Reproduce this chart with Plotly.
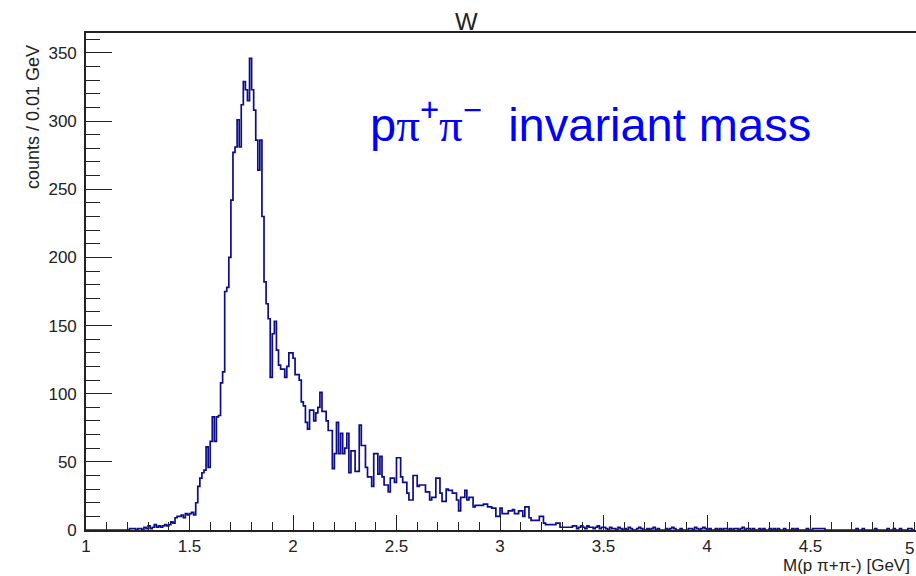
import plotly.graph_objects as go

# ---- data: counts per 0.01 GeV bin, from M = 1.00 to 5.00 GeV (one row = 0.1 GeV) ----
bin_start = 1.0
bin_width = 0.01
counts = [
    0, 0, 0, 0, 0, 0, 0, 0, 0, 0,            # 1.0
    0, 0, 0, 0, 0, 0, 0, 0, 0, 0,            # 1.1
    0, 1, 1, 1, 0, 1, 1, 0, 2, 1,            # 1.2
    3, 1, 2, 4, 2, 3, 2, 3, 4, 3,            # 1.3
    4, 6, 5, 9, 10, 10, 11, 9, 12, 11,       # 1.4
    12, 13, 11, 20, 32, 38, 42, 44, 61, 46,  # 1.5
    65, 83, 65, 83, 84, 108, 116, 175, 178, 200,  # 1.6
    242, 277, 281, 301, 281, 312, 329, 323, 315, 346,  # 1.7
    323, 308, 286, 264, 286, 230, 182, 166, 155, 112,  # 1.8
    144, 153, 132, 121, 118, 118, 112, 120, 130, 130,  # 1.9
    126, 114, 114, 110, 94, 91, 79, 74, 88, 88,  # 2.0
    80, 86, 90, 101, 87, 87, 80, 73, 73, 45,     # 2.1
    56, 79, 56, 71, 56, 60, 71, 42, 58, 58,      # 2.2
    43, 43, 77, 62, 62, 46, 39, 39, 32, 56,      # 2.3
    56, 41, 54, 39, 33, 33, 28, 38, 38, 35,      # 2.4
    53, 53, 39, 35, 35, 27, 22, 22, 40, 40,      # 2.5
    32, 33, 33, 33, 28, 28, 22, 24, 24, 38,      # 2.6
    38, 27, 21, 21, 30, 29, 29, 27, 27, 22,      # 2.7
    14, 24, 24, 29, 22, 24, 24, 17, 18, 18,      # 2.8
    18, 18, 19, 19, 17, 17, 16, 16, 10, 10,      # 2.9
    16, 12, 12, 12, 14, 14, 15, 12, 12, 14,      # 3.0
    14, 10, 17, 17, 9, 7, 7, 7, 7, 10,           # 3.1
    10, 5, 4, 4, 4, 4, 4, 5, 5, 2,               # 3.2
    2, 2, 2, 2, 2, 3, 3, 1, 2, 3,                # 3.3
    2, 1, 3, 2, 2, 1, 2, 3, 1, 2,                # 3.4
    2, 1, 0, 2, 1, 1, 0, 2, 1, 0,                # 3.5
    1, 0, 2, 1, 0, 0, 1, 2, 1, 0,                # 3.6
    0, 1, 0, 1, 2, 0, 1, 0, 0, 0,                # 3.7
    1, 0, 1, 2, 1, 0, 0, 1, 0, 0,                # 3.8
    0, 1, 1, 0, 2, 1, 0, 1, 2, 1,                # 3.9
    0, 1, 0, 0, 1, 0, 1, 0, 1, 1,                # 4.0
    0, 1, 0, 1, 1, 0, 1, 2, 0, 1,                # 4.1
    1, 0, 1, 0, 0, 1, 0, 1, 0, 0,                # 4.2
    1, 0, 1, 0, 1, 0, 0, 1, 0, 0,                # 4.3
    0, 1, 0, 1, 0, 0, 0, 0, 1, 0,                # 4.4
    0, 1, 1, 1, 1, 1, 1, 0, 0, 0,                # 4.5
    0, 0, 0, 0, 0, 0, 0, 0, 0, 0,                # 4.6
    0, 0, 1, 0, 0, 1, 0, 0, 0, 0,                # 4.7
    0, 1, 0, 0, 0, 0, 0, 1, 0, 0,                # 4.8
    1, 0, 0, 1, 0, 0, 0, 1, 1, 0,                # 4.9
]

x_tick_vals = [1, 1.5, 2, 2.5, 3, 3.5, 4, 4.5, 5]
x_tick_text = ["1", "1.5", "2", "2.5", "3", "3.5", "4", "4.5", "5"]
y_tick_vals = [0, 50, 100, 150, 200, 250, 300, 350]
y_tick_text = ["0", "50", "100", "150", "200", "250", "300", "350"]

title_text = "W"
x_title = "M(p \u03c0+\u03c0-) [GeV]"
y_title = "counts / 0.01 GeV"
label_text = ("p<span style='font-family:Liberation Serif'>\u03c0</span><sup>+</sup>"
              "<span style='font-family:Liberation Serif'>\u03c0</span><sup>\u2212</sup>"
              "  invariant mass")

# ---- build step histogram from bin edges ----
edges = [round(bin_start + bin_width * i, 4) for i in range(len(counts) + 1)]
step_y = counts + [counts[-1]]

W, H = 916, 576
L, R, T, B = 86, 0, 33, 46
pw, ph = W - L - R, H - T - B
x0, x1 = 1.0, 1.0 + pw / 207.0
y0, y1 = 0.0, ph / 1.363

def px_to_paper_x(px):
    return (px - L) / pw

def px_to_paper_y(py):
    return (H - B - py) / ph

fig = go.Figure()
fig.add_trace(go.Scatter(
    x=edges, y=step_y, mode="lines",
    line=dict(shape="hv", color="#0c0c8c", width=1.7),
    hoverinfo="skip", showlegend=False,
))

font_family = "Liberation Sans, Arial, Helvetica, sans-serif"
axis_col = "#222222"
tick_size = 17

fig.update_layout(
    width=W, height=H,
    margin=dict(l=L, r=R, t=T, b=B, pad=0),
    paper_bgcolor="white", plot_bgcolor="white",
    font=dict(family=font_family, color="#222222"),
    showlegend=False,
    xaxis=dict(
        range=[x0, x1], showgrid=False, zeroline=False,
        showline=True, linecolor=axis_col, linewidth=1.6, mirror=True,
        ticks="inside", ticklen=15, tickwidth=1.3, tickcolor=axis_col,
        tickvals=x_tick_vals[:-1], ticktext=x_tick_text[:-1],
        tickfont=dict(size=tick_size, family=font_family, color="#222222"),
        minor=dict(ticks="inside", ticklen=8, tickwidth=1.2, tickcolor=axis_col,
                   tick0=1.0, dtick=0.1, showgrid=False),
    ),
    yaxis=dict(
        range=[y0, y1], showgrid=False, zeroline=False,
        showline=True, linecolor=axis_col, linewidth=1.6,
        ticks="inside", ticklen=26, tickwidth=1.3, tickcolor=axis_col,
        tickvals=y_tick_vals, ticktext=y_tick_text,
        tickfont=dict(size=tick_size, family=font_family, color="#222222"),
        ticklabelstandoff=4,
        minor=dict(ticks="inside", ticklen=14, tickwidth=1.2, tickcolor=axis_col,
                   tick0=0, dtick=10, showgrid=False),
    ),
)

annotations = [
    dict(text=title_text, x=px_to_paper_x(466), y=px_to_paper_y(22),
         xref="paper", yref="paper", xanchor="center", yanchor="middle",
         showarrow=False, font=dict(size=24, family=font_family, color="#222222")),
    dict(text=x_title, x=px_to_paper_x(912), y=px_to_paper_y(565),
         xref="paper", yref="paper", xanchor="right", yanchor="middle",
         showarrow=False, font=dict(size=17, family=font_family, color="#222222")),
    dict(text=y_title, x=px_to_paper_x(33), y=px_to_paper_y(117),
         xref="paper", yref="paper", xanchor="center", yanchor="middle",
         textangle=-90, showarrow=False,
         font=dict(size=18, family=font_family, color="#222222")),
    dict(text=label_text, x=px_to_paper_x(368), y=px_to_paper_y(121),
         xref="paper", yref="paper", xanchor="left", yanchor="middle",
         showarrow=False, font=dict(size=47, family=font_family, color="#0000ff")),
    # last x tick label, kept just inside the right edge
    dict(text=x_tick_text[-1], x=1.0, y=px_to_paper_y(548),
         xref="paper", yref="paper", xanchor="right", yanchor="middle",
         showarrow=False, font=dict(size=tick_size, family=font_family, color="#222222")),
]
fig.update_layout(annotations=annotations)

fig.write_html("out.html")
